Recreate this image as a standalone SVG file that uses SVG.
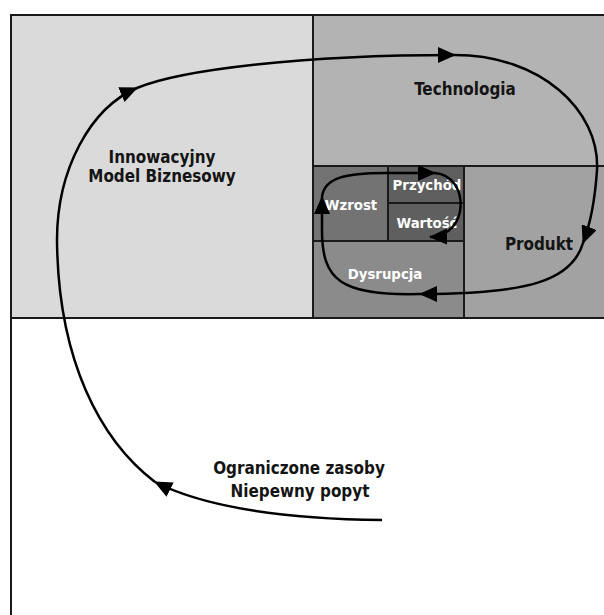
<svg xmlns="http://www.w3.org/2000/svg" width="604" height="615" viewBox="0 0 604 615">
  <style>
    .cell { stroke: none; }
    .grid { stroke: #1a1a1a; stroke-width: 2; fill: none; }
    .lbl { font-family: "DejaVu Sans Condensed", "DejaVu Sans", sans-serif; font-stretch: condensed; font-weight: bold; text-anchor: middle; }
    .dark { fill: #141414; font-size: 16.9px; }
    .light { fill: #ffffff; font-size: 14.8px; }
    .flow { fill: none; stroke: #000000; stroke-width: 2.5; marker-end: url(#head); }
  </style>
  <defs>
    <marker id="head" markerUnits="userSpaceOnUse" markerWidth="18" markerHeight="16" refX="17" refY="8" orient="auto" viewBox="0 0 18 16">
      <path d="M0,0 L18,8 L0,16 Z" fill="#000000"/>
    </marker>
  </defs>

  <rect x="0" y="0" width="604" height="615" fill="#ffffff"/>

  <!-- nested areas -->
  <g id="model-biznesowy">
    <rect class="cell" x="11" y="15" width="302" height="303" fill="#dadada"/>
    <text class="lbl dark" x="162" y="163">Innowacyjny</text>
    <text class="lbl dark" x="162" y="182">Model Biznesowy</text>
  </g>
  <g id="technologia">
    <rect class="cell" x="313" y="15" width="291" height="151" fill="#b3b3b3"/>
    <text class="lbl dark" x="465" y="95">Technologia</text>
  </g>
  <g id="produkt">
    <rect class="cell" x="464" y="166" width="140" height="152" fill="#a2a2a2"/>
    <text class="lbl dark" x="539" y="250">Produkt</text>
  </g>
  <g id="dysrupcja">
    <rect class="cell" x="313" y="241" width="151" height="77" fill="#8b8b8b"/>
    <text class="lbl light" x="385" y="279">Dysrupcja</text>
  </g>
  <g id="wzrost">
    <rect class="cell" x="313" y="166" width="75" height="75" fill="#737373"/>
    <text class="lbl light" x="351" y="210">Wzrost</text>
  </g>
  <g id="przychod">
    <rect class="cell" x="388" y="166" width="76" height="37" fill="#5f5f5f"/>
    <text class="lbl light" x="427" y="190">Przychód</text>
  </g>
  <g id="wartosc">
    <rect class="cell" x="388" y="203" width="76" height="38" fill="#5f5f5f"/>
    <text class="lbl light" x="427" y="228">Wartość</text>
  </g>
  <g id="ograniczenia">
    <text class="lbl dark" x="299" y="474">Ograniczone zasoby</text>
    <text class="lbl dark" x="300" y="497">Niepewny popyt</text>
  </g>

  <!-- dividing lines -->
  <g id="grid">
    <path class="grid" d="M11,615 V15 H604"/>
    <path class="grid" d="M11,318 H604"/>
    <path class="grid" d="M313,15 V318"/>
    <path class="grid" d="M313,166 H604"/>
    <path class="grid" d="M464,166 V318"/>
    <path class="grid" d="M313,241 H464"/>
    <path class="grid" d="M388,166 V241"/>
    <path class="grid" d="M388,203 H464"/>
  </g>

  <!-- inward spiral -->
  <g id="connectors">
    <path class="flow" d="M382,520 C300,519 210,510 155,482"/>
    <path class="flow" d="M155,482 C100,440 58,360 57,240 C57,170 90,108 137,88"/>
    <path class="flow" d="M137,88 C180,70 300,55 455,55"/>
    <path class="flow" d="M455,55 C540,55 600,110 597,170 C595,200 590,225 583,243"/>
    <path class="flow" d="M583,243 C572,280 530,294 420,294"/>
    <path class="flow" d="M420,294 C340,296 322,280 322,230 L322,197"/>
    <path class="flow" d="M322,197 C324,178 345,173 385,173 L435,173"/>
    <path class="flow" d="M435,173 C470,176 470,236 430,237"/>
  </g>
</svg>
